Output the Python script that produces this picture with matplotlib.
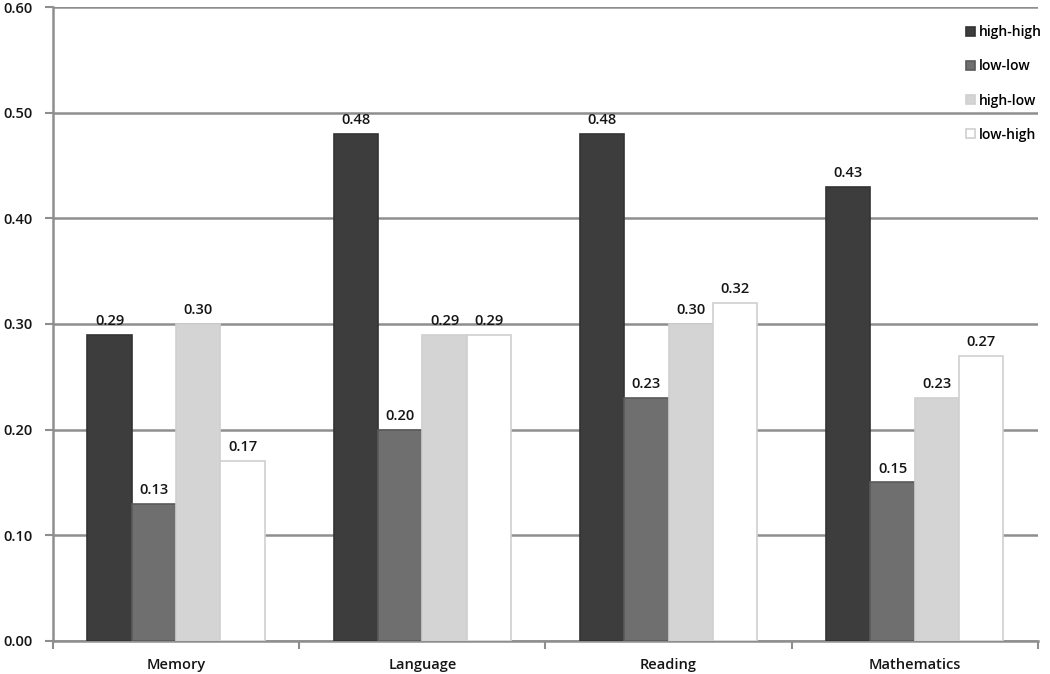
import matplotlib
matplotlib.use("Agg")
import matplotlib.pyplot as plt
import numpy as np

categories = ["Memory", "Language", "Reading", "Mathematics"]
series_names = ["high-high", "low-low", "high-low", "low-high"]
high_high = [0.29, 0.48, 0.48, 0.43]
low_low = [0.13, 0.20, 0.23, 0.15]
high_low = [0.30, 0.29, 0.30, 0.23]
low_high = [0.17, 0.29, 0.32, 0.27]
yticks = [0.0, 0.1, 0.2, 0.3, 0.4, 0.5, 0.6]

series = [high_high, low_low, high_low, low_high]
colors = ["#3d3d3d", "#6f6f6f", "#d4d4d4", "#ffffff"]
edges = ["#333333", "#5a5a5a", "#d0d0d0", "#cfcfcf"]

plt.rcParams['font.family'] = ['Open Sans', 'DejaVu Sans']
plt.rcParams['font.weight'] = 600
FS = 10.5
TC = "#151515"
fig = plt.figure(figsize=(10.5, 6.74), dpi=100)
ax = fig.add_axes([0.0505, 0.049, 0.938, 0.9406])

x = np.arange(len(categories))
w = 0.18
for i, (vals, c, e, name) in enumerate(zip(series, colors, edges, series_names)):
    pos = x + (i - 1.5) * w
    ax.bar(pos, vals, width=w, color=c, edgecolor=e, linewidth=1.2,
           label=name, zorder=3)
    for p, v in zip(pos, vals):
        ax.annotate(f"{v:.2f}", (p, v), xytext=(0, 5), textcoords="offset points",
                    ha="center", va="bottom", fontsize=FS, color=TC)

ax.set_xlim(-0.5, len(categories) - 0.5)
ax.set_ylim(0, 0.6)
ax.set_yticks(yticks)
ax.set_yticklabels([f"{t:.2f}" for t in yticks], fontsize=FS, color=TC)
ax.yaxis.grid(True, color="#8e8e8e", linewidth=1.8, zorder=0)
ax.set_axisbelow(True)

ax.set_xticks(x)
ax.set_xticklabels(categories, fontsize=FS, color=TC)
ax.tick_params(axis="x", which="major", length=0, pad=12)
ax.set_xticks(np.arange(len(categories) + 1) - 0.5, minor=True)
ax.tick_params(axis="x", which="minor", length=6, width=1.5, color="#8e8e8e")
ax.tick_params(axis="y", length=6, width=1.5, color="#8e8e8e", pad=9, direction="out")

for s in ["top", "right"]:
    ax.spines[s].set_visible(False)
for s in ["left", "bottom"]:
    ax.spines[s].set_color("#8e8e8e")
    ax.spines[s].set_linewidth(1.8)

leg = ax.legend(loc="upper left", bbox_to_anchor=(0.921, 0.980), frameon=False,
                fontsize=10, handlelength=0.65, handleheight=0.65, handletextpad=0.3,
                labelspacing=1.45, borderaxespad=0)

fig.savefig("out.png", dpi=100)
